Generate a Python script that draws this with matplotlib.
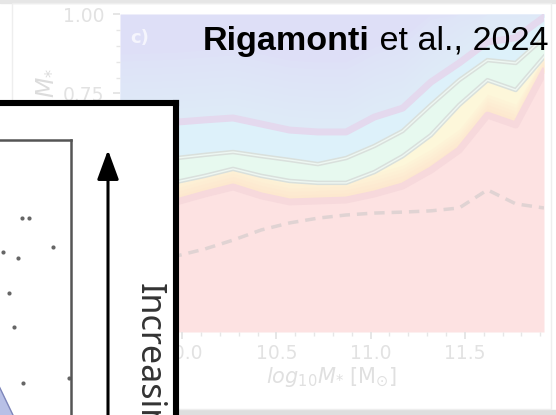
import numpy as np
import matplotlib.pyplot as plt
from matplotlib.patches import Rectangle
from matplotlib.ticker import MultipleLocator

# stellar mass bins, log10 M*
logm = [9.67, 9.82, 9.97, 10.12, 10.27, 10.42, 10.57, 10.72, 10.87, 11.02,
        11.17, 11.32, 11.47, 11.62, 11.77, 11.92]
# cumulative fractions (upper edge of each stacked band)
frac_a = [0.399, 0.406, 0.409, 0.434, 0.456, 0.428, 0.409, 0.412, 0.415, 0.434,
          0.459, 0.509, 0.572, 0.682, 0.651, 0.818]
frac_b = [0.465, 0.469, 0.472, 0.491, 0.513, 0.491, 0.475, 0.469, 0.469, 0.503,
          0.553, 0.619, 0.714, 0.792, 0.761, 0.865]
frac_c = [0.541, 0.544, 0.547, 0.557, 0.566, 0.553, 0.541, 0.528, 0.547, 0.585,
          0.632, 0.714, 0.792, 0.855, 0.846, 0.925]
frac_d = [0.654, 0.657, 0.660, 0.667, 0.673, 0.654, 0.635, 0.629, 0.629, 0.676,
          0.704, 0.786, 0.846, 0.912, 0.925, 0.990]
frac_dash = [0.211, 0.226, 0.239, 0.261, 0.289, 0.321, 0.343, 0.358, 0.368, 0.374,
             0.377, 0.381, 0.390, 0.447, 0.403, 0.390]
band_colors = ['#fde2e2', '#fdf7da', '#e7f9ef', '#ddf1fa', '#dedff7']

# overlaid sketch (inset) points
dots_x = [0.505, 0.575, 0.315, 0.465, 0.815, 0.375, 0.425, 0.515, 0.975]
dots_y = [0.740, 0.740, 0.627, 0.607, 0.643, 0.490, 0.377, 0.190, 0.207]
blob_x = [0.0, 0.535]
blob_y = [0.37, 0.0]

W, H = 556, 415
def fx(px):
    return px / W
def fy(py):
    return 1 - py / H

fig = plt.figure(figsize=(W / 100, H / 100), dpi=100)

# slide frame
fig.patches.append(Rectangle((0, fy(3)), 1, 3 / H, transform=fig.transFigure,
                             color='#e6e6e6', zorder=-2))
fig.patches.append(Rectangle((0, 0), 1, 5 / H, transform=fig.transFigure,
                             color='#dedede', zorder=-2))
fig.patches.append(Rectangle((fx(12), fy(409)), fx(551) - fx(12), (409 - 3) / H,
                             transform=fig.transFigure, fill=False,
                             edgecolor='#eeeeee', lw=1, zorder=-1))

# ---- faded background panel
ax = fig.add_axes([fx(120), fy(332), (544 - 120) / W, (332 - 14) / H])
bounds = [[0] * len(logm), frac_a, frac_b, frac_c, frac_d, [1] * len(logm)]
for i in range(5):
    ax.fill_between(logm, bounds[i], bounds[i + 1], color=band_colors[i], lw=0)
# soft colour gradients inside bands
fa = np.array(frac_a)
fd = np.array(frac_d)
for j in range(6):
    ax.fill_between(logm, fa, np.minimum(fa + 0.011 * (j + 1), frac_b),
                    color='#fddcc8', alpha=0.12, lw=0)
for j in range(10):
    ax.fill_between(logm, fd, np.minimum(fd + 0.022 * (j + 1), 1),
                    color='#e2f1fb', alpha=0.13, lw=0)

ax.plot(logm, frac_a, color='#f7d9dc', lw=5)
for f in (frac_b, frac_c):
    ax.plot(logm, f, color='#d9e0dc', lw=3.2)
    ax.plot(logm, f, color='#eef7f2', lw=1.0)
ax.plot(logm, frac_d, color='#e4d9ee', lw=5)
ax.plot(logm, frac_dash, color='#e0d3d3', lw=2.5, ls=(0, (3, 2)))

ax.set_xlim(logm[0], logm[-1])
ax.set_ylim(0, 1)
ax.set_xticks([10.0, 10.5, 11.0, 11.5])
ax.set_yticks([0, 0.25, 0.5, 0.75, 1.0])
ax.set_yticklabels(['0.00', '0.25', '0.50', '0.75', '1.00'])
ax.xaxis.set_minor_locator(MultipleLocator(0.1))
ax.yaxis.set_minor_locator(MultipleLocator(0.05))
ax.tick_params(which='major', colors='#e2e2e2', labelsize=13.5, length=5, width=1.2)
ax.tick_params(which='minor', colors='#e6e6e6', length=3, width=1)
ax.tick_params(axis='y', which='major', pad=6)
for s in ax.spines.values():
    s.set_visible(False)
ax.set_xlabel(r'$log_{10}M_{*}$ [M$_{\odot}$]', fontsize=15, color='#e0e0e0', labelpad=2)
ax.text(fx(50), fy(67), r'$M_{\rm comp}\,/\,M_{*}$', transform=fig.transFigure,
        rotation=90, ha='center', va='top', fontsize=17, color='#dcdcdc')
ax.text(fx(130), fy(38), 'c)', transform=fig.transFigure, fontsize=13,
        fontweight='bold', color='#f5f5fd', va='center')

# ---- reference title
t1 = fig.text(fx(203), fy(50), 'Rigamonti', fontsize=24.6, fontweight='bold',
              family='Liberation Sans', va='baseline')
fig.canvas.draw()
bb = t1.get_window_extent(fig.canvas.get_renderer())
fig.text(bb.x1 / W, fy(50), ' et al., 2024', fontsize=24.6,
         family='Liberation Sans', va='baseline')

# ---- overlaid box
ax2 = fig.add_axes([fx(-30), fy(450), (175.5 + 30) / W, (450 - 103) / H])
ax2.set_facecolor('white')
ax2.set_xticks([])
ax2.set_yticks([])
for s in ax2.spines.values():
    s.set_color('black')
    s.set_linewidth(4.4)

ax2.annotate('', xy=(108, H - 150), xytext=(108, -60),
             xycoords='figure pixels', textcoords='figure pixels',
             arrowprops=dict(arrowstyle='-|>,head_length=0.6,head_width=0.22',
                             color='black', lw=2.2, mutation_scale=30,
                             shrinkA=0, shrinkB=0))
ax2.text(fx(149), fy(283), 'Increasing', transform=fig.transFigure,
         rotation=270, ha='center', va='top', fontsize=24.5,
         family='Noto Sans', color='#333333')

ax3 = fig.add_axes([fx(-28.5), fy(440), 100 / W, 300 / H])
ax3.set_xlim(0, 1)
ax3.set_ylim(0, 1)
ax3.set_xticks([])
ax3.set_yticks([])
for s in ax3.spines.values():
    s.set_color('#555555')
    s.set_linewidth(1.8)
ax3.fill_between(blob_x, 0, blob_y, color='#b8c0e6', lw=0)
ax3.plot(blob_x, blob_y, color='#7e86ba', lw=1)
ax3.scatter(dots_x, dots_y, s=9, color='#666666', lw=0)

fig.savefig('out.png', dpi=100)
